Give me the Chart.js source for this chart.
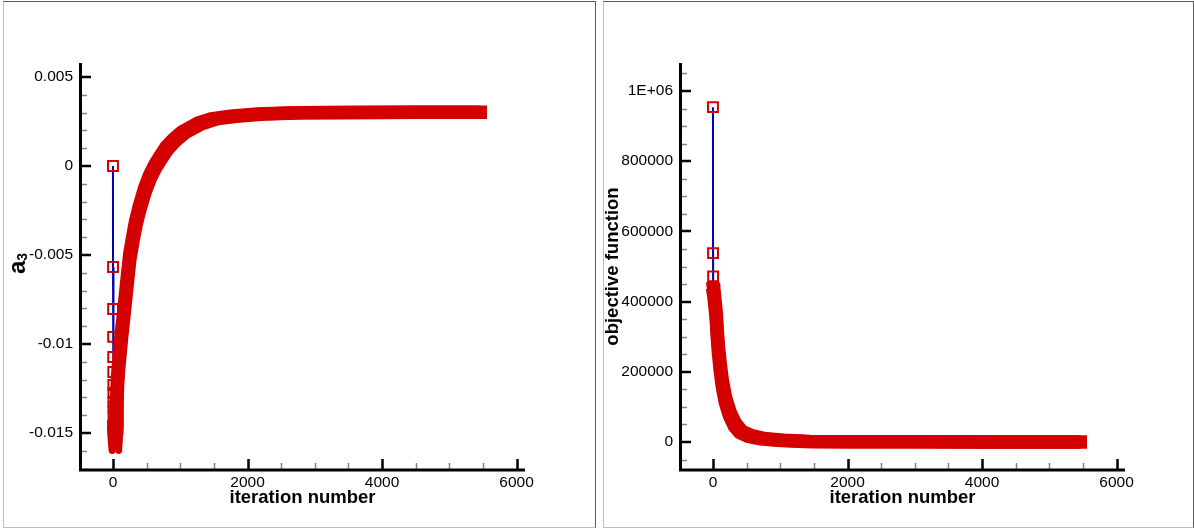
<!DOCTYPE html>
<html>
<head>
<meta charset="utf-8">
<title>a3 / objective function history</title>
<script src="https://cdn.jsdelivr.net/npm/chart.js@4.4.1/dist/chart.umd.min.js"></script>
<style>
  html, body { margin: 0; padding: 0; background: #fff; }
  body { width: 1194px; height: 529px; position: relative; overflow: hidden; }
  .frame { position: absolute; top: 1px; height: 527px; box-sizing: border-box;
           border: 1px solid #5a5a5a; border-left-color: #bdbdbd; border-bottom-color: #bdbdbd; }
  canvas { position: absolute; top: 0; }
</style>
</head>
<body>
<div class="frame" style="left:3px;width:593px"></div>
<div class="frame" style="left:603px;width:591px"></div>
<canvas id="chA3" style="left:0" width="597" height="529"></canvas>
<canvas id="chObj" style="left:597px" width="597" height="529"></canvas>

<script>
'use strict';

/* ── data ── */
// first iterations, drawn with the connecting line and open squares
const A3_START_ITER = [0, 1, 2, 3, 4, 5, 6, 7, 8, 9, 10, 11, 12, 13];
const A3_START      = [0, -0.00567, -0.00803, -0.0096, -0.01073, -0.01157, -0.0123,
                       -0.01275, -0.01324, -0.01352, -0.0138, -0.01408, -0.01446, -0.01465];
// rest of the run (dense markers)
const A3_ITER = [13, 20, 28, 36, 44, 50, 58, 68, 85, 107, 130, 156, 205, 250, 300, 340,
                 400, 475, 550, 630, 713, 800, 913, 1050, 1292, 1500, 1787, 2200, 2777,
                 3500, 4500, 5460];
const A3      = [-0.01465, -0.0151, -0.0155, -0.0158, -0.0158, -0.0148, -0.0133, -0.0121,
                 -0.0112, -0.0103, -0.0094, -0.0085, -0.0067, -0.0051, -0.0040, -0.0032,
                 -0.0023, -0.00135, -0.0006, 0.0, 0.0005, 0.0010, 0.00146, 0.0019, 0.0024,
                 0.00265, 0.0028, 0.00293, 0.0030, 0.00301, 0.00302, 0.00302];

const OBJ_START_ITER = [0, 1, 2, 3];
const OBJ_START      = [954000, 538000, 472000, 437000];
const OBJ_ITER = [3, 8, 15, 30, 49, 65, 82, 110, 139, 185, 250, 330, 420, 550, 750,
                  1000, 1250, 1400, 2000, 3000, 4000, 5460];
const OBJ      = [437000, 434000, 428000, 395000, 357000, 305000, 262000, 210000, 167000,
                  120000, 80000, 48000, 28000, 17000, 9000, 5000, 3000, 1500, 800, 500,
                  300, 200];

const X_TICKS   = [0, 2000, 4000, 6000];
const A3_TICKS  = [-0.015, -0.01, -0.005, 0, 0.005];
const OBJ_TICKS = [0, 200000, 400000, 600000, 800000, 1000000];

/* ── style ── */
const RED = '#d40000';
const BLUE = '#0000b4';
const FONT = "'Liberation Sans', Arial, Helvetica, sans-serif";

Chart.defaults.font.family = FONT;
Chart.defaults.font.size = 15.5;
Chart.defaults.color = '#000';

const pts = (xs, ys) => xs.map((x, i) => ({ x, y: ys[i] }));

/* axis lines + inward major/minor ticks */
const axesFrame = {
  id: 'axesFrame',
  afterDatasetsDraw(chart, args, opts) {
    const { ctx, chartArea: a, scales: { x, y } } = chart;
    const isMajor = (scale, v) => scale.ticks.some(t => Math.abs(t.value - v) < opts.eps[scale.id]);
    ctx.save();
    ctx.lineCap = 'butt';

    // minor ticks
    ctx.strokeStyle = '#808080';
    ctx.lineWidth = 1.5;
    ctx.beginPath();
    for (let k = Math.ceil(x.min / opts.xMinor); k * opts.xMinor <= x.max; k++) {
      const v = k * opts.xMinor;
      if (isMajor(x, v)) continue;
      const px = Math.round(x.getPixelForValue(v)) + 0.5;
      ctx.moveTo(px, a.bottom); ctx.lineTo(px, a.bottom - 7);
    }
    for (let k = Math.ceil(y.min / opts.yMinor); k * opts.yMinor <= y.max; k++) {
      const v = k * opts.yMinor;
      if (isMajor(y, v)) continue;
      const py = Math.round(y.getPixelForValue(v)) + 0.5;
      ctx.moveTo(a.left, py); ctx.lineTo(a.left + 7, py);
    }
    ctx.stroke();

    // major ticks
    ctx.strokeStyle = '#000';
    ctx.lineWidth = 2.5;
    ctx.beginPath();
    x.ticks.forEach(t => {
      const px = Math.round(x.getPixelForValue(t.value)) + 0.5;
      ctx.moveTo(px, a.bottom); ctx.lineTo(px, a.bottom - 11);
    });
    y.ticks.forEach(t => {
      const py = Math.round(y.getPixelForValue(t.value));
      ctx.moveTo(a.left, py); ctx.lineTo(a.left + 11, py);
    });
    ctx.stroke();

    // axis lines
    ctx.lineWidth = 3;
    ctx.beginPath();
    ctx.moveTo(a.left + 0.5, a.top); ctx.lineTo(a.left + 0.5, a.bottom + 1.5);
    ctx.moveTo(a.left - 1, a.bottom); ctx.lineTo(a.right, a.bottom);
    ctx.stroke();
    ctx.restore();
  }
};

/* the dense marker run: the line is stroked at the four corners of a
   small square so the band gets the squared-off look of stacked markers */
const squareBrush = {
  id: 'squareBrush',
  beforeDatasetDraw(chart, args, opts) {
    if (args.index !== 0) return;
    const d = opts.offset;
    const ctx = chart.ctx;
    [[-d, -d], [d, -d], [-d, d], [d, d]].forEach(([dx, dy]) => {
      ctx.save();
      ctx.translate(dx, dy);
      args.meta.controller.draw();
      ctx.restore();
    });
    return false;
  }
};

/* y title with subscript: a₃ */
const subTitle = {
  id: 'subTitle',
  afterDraw(chart, args, opts) {
    if (!opts.main) return;
    const { ctx, chartArea: a } = chart;
    ctx.save();
    ctx.translate(opts.x, (a.top + a.bottom) / 2 + opts.shift);
    ctx.rotate(-Math.PI / 2);
    ctx.fillStyle = '#000';
    ctx.textBaseline = 'alphabetic';
    ctx.font = `bold ${opts.size}px ${FONT}`;
    const w1 = ctx.measureText(opts.main).width;
    ctx.font = `bold ${opts.subSize}px ${FONT}`;
    const w2 = ctx.measureText(opts.sub).width;
    const x0 = -(w1 + w2) / 2;
    ctx.font = `bold ${opts.size}px ${FONT}`;
    ctx.fillText(opts.main, x0, 0);
    ctx.font = `bold ${opts.subSize}px ${FONT}`;
    ctx.fillText(opts.sub, x0 + w1, opts.drop);
    ctx.restore();
  }
};

function xScale(min, max) {
  return {
    type: 'linear', min, max,
    afterBuildTicks: s => { s.ticks = X_TICKS.map(v => ({ value: v })); },
    afterFit: s => { s.height = 59; },
    grid: { display: false, drawTicks: false },
    border: { display: false },
    ticks: { padding: 3, callback: v => String(v) },
    title: { display: true, text: 'iteration number', font: { size: 18.5, weight: 'bold' },
             padding: { top: 0, bottom: 20 } }
  };
}

function makeChart(id, cfg) {
  return new Chart(document.getElementById(id), {
    type: 'scatter',
    data: {
      datasets: [
        { // dense run: the markers overlap into a solid band
          data: cfg.band, showLine: true,
          borderColor: RED, borderWidth: 7, borderCapStyle: 'square', borderJoinStyle: 'round',
          pointRadius: 0, tension: 0
        },
        { // first iterations
          data: cfg.start, showLine: true,
          borderColor: BLUE, borderWidth: 2,
          pointStyle: 'rect', pointRadius: 7, pointBorderWidth: 2,
          pointBorderColor: RED, pointBackgroundColor: 'rgba(0,0,0,0)', tension: 0
        }
      ]
    },
    options: {
      responsive: false, animation: false, events: [],
      layout: { padding: { top: 63, right: cfg.padRight, left: 0, bottom: 0 } },
      plugins: {
        legend: { display: false }, tooltip: { enabled: false },
        axesFrame: { xMinor: 500, yMinor: cfg.yMinor, eps: { x: 1e-6, y: cfg.yMinor / 100 } },
        squareBrush: { offset: 3.25 },
        subTitle: cfg.subTitle || {}
      },
      scales: {
        x: xScale(-490, 6125),
        y: {
          type: 'linear', min: cfg.yMin, max: cfg.yMax,
          afterBuildTicks: s => { s.ticks = cfg.yTicks.map(v => ({ value: v })); },
          afterFit: s => { s.width = cfg.yWidth; },
          grid: { display: false, drawTicks: false },
          border: { display: false },
          ticks: { padding: 7, callback: cfg.fmt },
          title: cfg.yTitle
        }
      }
    },
    plugins: [axesFrame, squareBrush, subTitle]
  });
}

makeChart('chA3', {
  band: pts(A3_ITER, A3),
  start: pts(A3_START_ITER, A3_START),
  yMin: -0.01708, yMax: 0.00579, yTicks: A3_TICKS, yMinor: 0.001,
  yWidth: 80, padRight: 72,
  fmt: v => String(v),
  yTitle: { display: false },
  subTitle: { main: 'a', sub: '3', x: 25, shift: -3, size: 24, subSize: 14, drop: 2 }
});

makeChart('chObj', {
  band: pts(OBJ_ITER, OBJ),
  start: pts(OBJ_START_ITER, OBJ_START),
  yMin: -79800, yMax: 1079800, yTicks: OBJ_TICKS, yMinor: 50000,
  yWidth: 83, padRight: 69,
  fmt: v => v === 1000000 ? '1E+06' : String(v),
  yTitle: { display: true, text: 'objective function', font: { size: 18.5, weight: 'bold' },
            padding: { top: 5, bottom: 0 } }
});
</script>
</body>
</html>
